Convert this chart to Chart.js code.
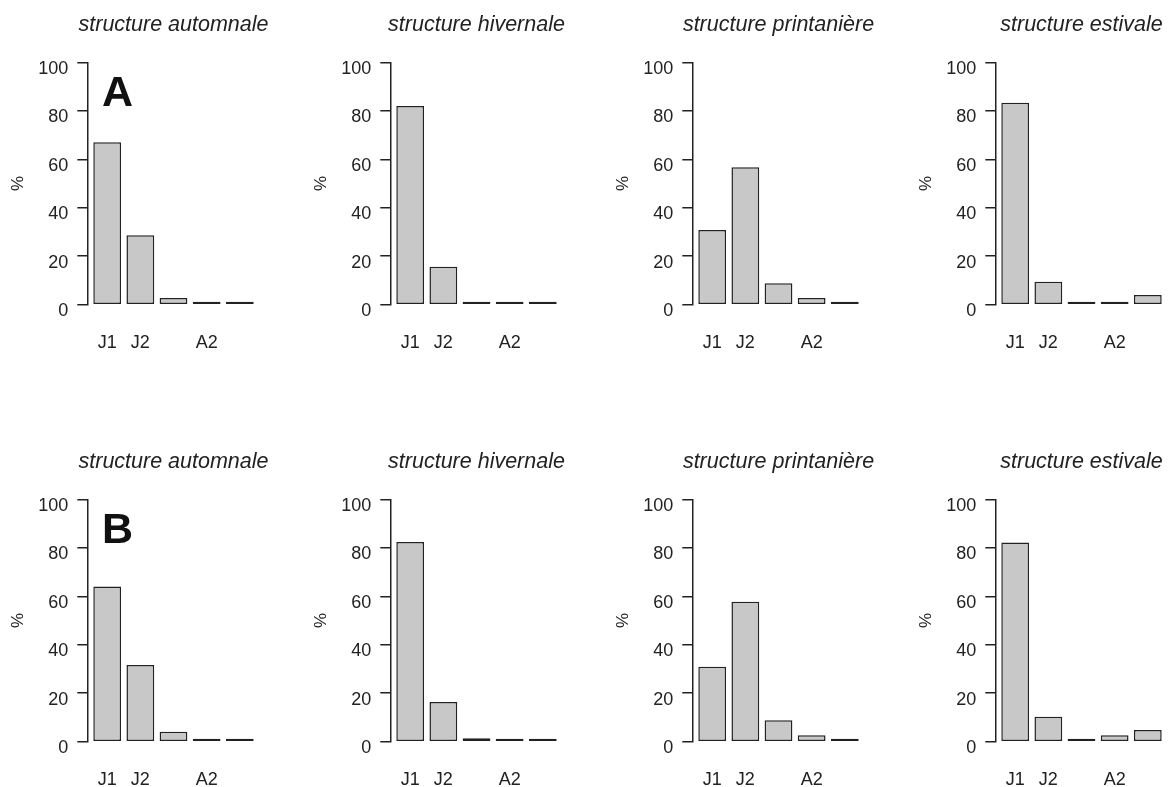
<!DOCTYPE html>
<html>
<head>
<meta charset="utf-8">
<script src="https://cdn.jsdelivr.net/npm/chart.js@4.4.1/dist/chart.umd.min.js"></script>
<style>
  html, body { margin: 0; padding: 0; background: #fff; overflow: hidden; }
  body { width: 1173px; height: 787px; position: relative; }
  canvas { position: absolute; }
</style>
</head>
<body>
<script>
// age classes on the x axis (only some are labelled in the figure)
const ageClasses = ['J1', 'J2', '', 'A2', ''];
const seasonTitles = ['structure automnale', 'structure hivernale', 'structure printanière', 'structure estivale'];
const panelLetters = ['A', 'B'];
const yTicks = [0, 20, 40, 60, 80, 100];

// row A
const autumnA = [67.0, 28.7, 2.8, 0.2, 0.2];
const winterA = [82.0, 15.7, 0.8, 0.2, 0.2];
const springA = [30.8, 56.7, 8.8, 2.8, 0.2];
const summerA = [83.3, 9.5, 0.2, 1.2, 4.0];
// row B
const autumnB = [64.0, 31.6, 4.1, 0.5, 0.5];
const winterB = [82.4, 16.4, 1.4, 0.6, 0.2];
const springB = [30.9, 57.7, 8.9, 2.7, 0.2];
const summerB = [82.2, 10.3, 0.5, 2.7, 4.8];

const rows = [
    [autumnA, winterA, springA, summerA],
    [autumnB, winterB, springB, summerB],
];

const INK = '#222';
const FONT = "'Liberation Sans', Arial, Helvetica, sans-serif";
const panelLeft = [0, 303, 605.4, 907.7];
const rowTop = [0, 437.4];
// canvas is symmetric around the visible plot so the title centres over it;
// the x range runs past the last bar to fill the extra width
const AXIS_W = 87.3, PLOT_W = 172.4;
const W = AXIS_W * 2 + PLOT_W, H = 360;
const X_MIN = -0.6, X_STEP_PX = PLOT_W / 5.2;
const X_MAX = X_MIN + (W - AXIS_W) / X_STEP_PX;

Chart.defaults.font.family = FONT;
Chart.defaults.color = INK;

const letterPlugin = {
    id: 'panelLetter',
    afterDraw(chart, args, opts) {
        if (!opts.text) return;
        const { ctx, scales: { x, y } } = chart;
        ctx.save();
        ctx.font = `bold 43px ${FONT}`;
        ctx.fillStyle = '#111';
        ctx.textAlign = 'center';
        ctx.textBaseline = 'middle';
        ctx.fillText(opts.text, x.getPixelForValue(0.31), y.getPixelForValue(86.8));
        ctx.restore();
    }
};

const makePanel = (r, c) => {
    const canvas = document.createElement('canvas');
    canvas.width = W;
    canvas.height = H;
    canvas.style.left = panelLeft[c] + 'px';
    canvas.style.top = rowTop[r] + 'px';
    document.body.appendChild(canvas);

    const values = rows[r][c];
    new Chart(canvas, {
        type: 'bar',
        data: {
            datasets: [{
                data: values.map((v, i) => ({ x: i, y: v })),
                backgroundColor: '#c8c8c9',
                borderColor: INK,
                borderWidth: 1.5,
                borderSkipped: false,
                barPercentage: 0.838,
                categoryPercentage: 1,
                minBarLength: 3,
            }]
        },
        options: {
            responsive: false,
            animation: false,
            layout: { padding: 0 },
            plugins: {
                legend: { display: false },
                tooltip: { enabled: false },
                title: {
                    display: true,
                    text: seasonTitles[c],
                    color: INK,
                    font: { size: 21.5, style: 'italic', weight: 'normal' },
                    padding: { top: 12.5, bottom: 24 },
                },
                panelLetter: { text: c === 0 ? panelLetters[r] : '' },
            },
            scales: {
                x: {
                    type: 'linear',
                    offset: false,
                    min: X_MIN,
                    max: X_MAX,
                    bounds: 'data',
                    afterBuildTicks: s => { s.ticks = ageClasses.map((_, i) => ({ value: i })); },
                    afterFit: s => { s.height = H - 304.7; },
                    border: { display: false },
                    grid: { display: false, drawTicks: false, offset: false },
                    ticks: {
                        autoSkip: false,
                        maxRotation: 0,
                        padding: 27.5,
                        font: { size: 18 },
                        callback: v => ageClasses[v],
                    },
                },
                y: {
                    min: 0,
                    max: 100,
                    afterBuildTicks: s => { s.ticks = yTicks.map(v => ({ value: v })); },
                    afterFit: s => { s.width = AXIS_W; },
                    border: { display: true, color: INK, width: 1.5 },
                    grid: { drawOnChartArea: false, drawTicks: true, tickLength: 10, color: INK, lineWidth: 1.5 },
                    ticks: { padding: 9, font: { size: 18 }, labelOffset: 6.5 },
                    title: { display: true, text: '%', font: { size: 17 }, padding: { top: 8, bottom: 0 } },
                },
            },
        },
        plugins: [letterPlugin],
    });
};

rows.forEach((row, r) => row.forEach((_, c) => makePanel(r, c)));
</script>
</body>
</html>
